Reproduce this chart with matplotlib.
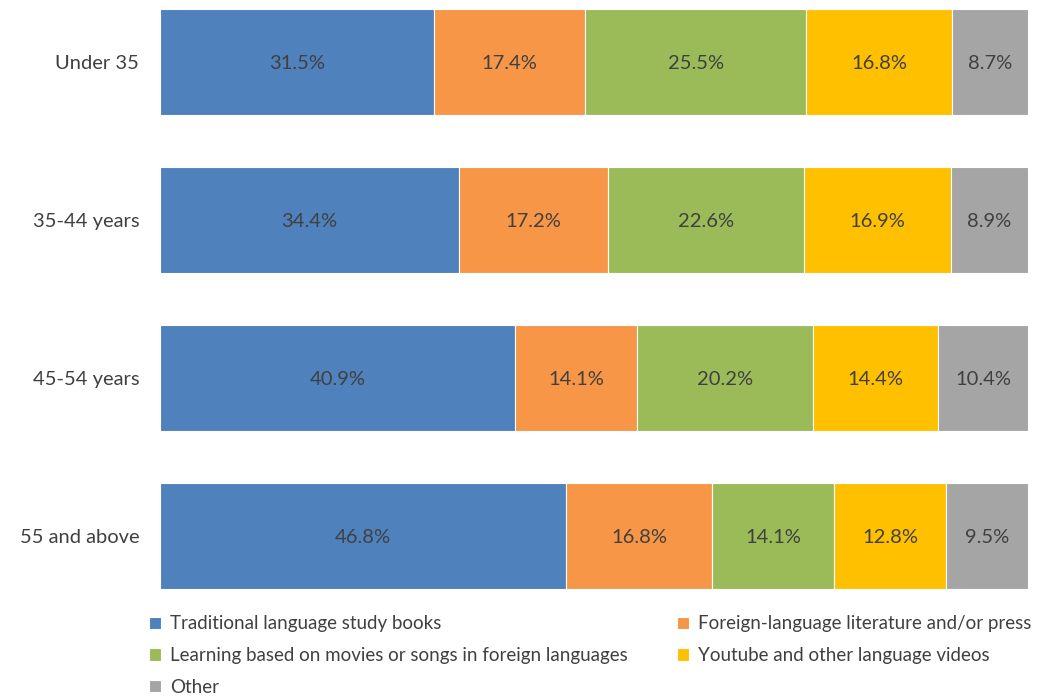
import matplotlib.pyplot as plt
import numpy as np

plt.rcParams['font.family'] = ['Lato', 'DejaVu Sans']

# age groups, top to bottom
groups = ['Under 35', '35-44 years', '45-54 years', '55 and above']
sources = ['Traditional language study books',
           'Foreign-language literature and/or press',
           'Learning based on movies or songs in foreign languages',
           'Youtube and other language videos',
           'Other']
trad = [31.5, 34.4, 40.9, 46.8]
foreign = [17.4, 17.2, 14.1, 16.8]
movies = [25.5, 22.6, 20.2, 14.1]
youtube = [16.8, 16.9, 14.4, 12.8]
other = [8.7, 8.9, 10.4, 9.5]
colors = ['#4F81BD', '#F79646', '#9BBB59', '#FFC000', '#A5A5A5']

data = np.array([trad, foreign, movies, youtube, other])
shares = data / data.sum(axis=0) * 100  # 100% stacked

fig = plt.figure(figsize=(10.38, 6.97), dpi=100)
ax = fig.add_axes([160 / 1038, 108 / 697, 868 / 1038, 580 / 697])

y = np.arange(len(groups))
left = np.zeros(len(groups))
handles = []
for i, name in enumerate(sources):
    bars = ax.barh(y, shares[i], left=left, height=0.67, color=colors[i],
                   edgecolor='white', linewidth=0.8, label=name)
    handles.append(bars)
    for j in range(len(groups)):
        ax.text(left[j] + shares[i][j] / 2, y[j] + 0.01, f"{data[i][j]:.1f}%",
                ha='center', va='center', fontsize=14.5, color='#404040')
    left += shares[i]

ax.set_xlim(0, 100)
ax.set_ylim(len(groups) - 1 + 0.335, -0.335)
ax.set_yticks(y)
ax.set_yticklabels(groups, fontsize=14.5, color='#404040')
ax.tick_params(axis='y', length=0, pad=15)
ax.set_xticks([])
for s in ax.spines.values():
    s.set_visible(False)

# row-major order for the two-column legend
order = [0, 2, 4, 1, 3]
fig.legend([handles[k] for k in order], [sources[k] for k in order],
           ncol=2, loc='upper left', bbox_to_anchor=(141 / 1038, 1 - 608 / 697),
           frameon=False, fontsize=13.5, labelcolor='#404040',
           handlelength=0.65, handleheight=0.65, handletextpad=0.5,
           columnspacing=2.6, labelspacing=0.78, borderaxespad=0)

fig.savefig('out.png', dpi=100)
